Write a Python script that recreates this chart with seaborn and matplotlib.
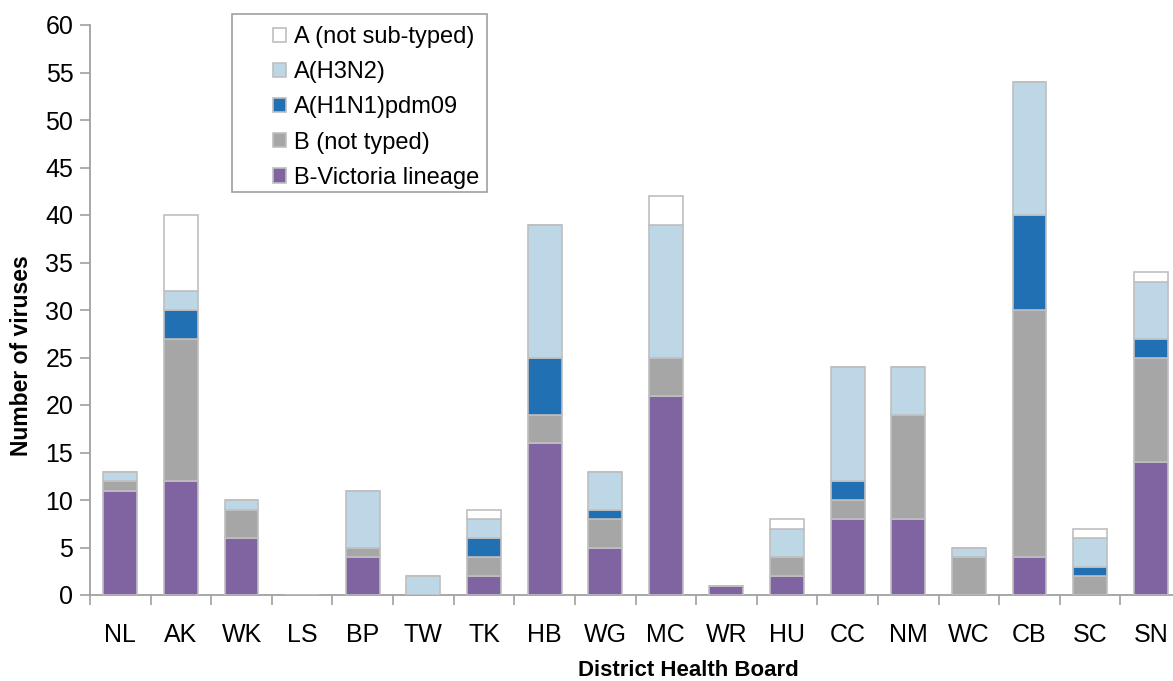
import numpy as np
import pandas as pd
import matplotlib
matplotlib.use("Agg")
import matplotlib.pyplot as plt
from matplotlib.patches import Rectangle
import seaborn as sns

# District health boards and virus counts
dhb = ["NL", "AK", "WK", "LS", "BP", "TW", "TK", "HB", "WG",
       "MC", "WR", "HU", "CC", "NM", "WC", "CB", "SC", "SN"]
b_victoria = [11, 12, 6, 0, 4, 0, 2, 16, 5, 21, 1, 2, 8, 8, 0, 4, 0, 14]
b_not_typed = [1, 15, 3, 0, 1, 0, 2, 3, 3, 4, 0, 2, 2, 11, 4, 26, 2, 11]
h1n1 = [0, 3, 0, 0, 0, 0, 2, 6, 1, 0, 0, 0, 2, 0, 0, 10, 1, 2]
h3n2 = [1, 2, 1, 0, 6, 2, 2, 14, 4, 14, 0, 3, 12, 5, 1, 14, 3, 6]
a_not_subtyped = [0, 8, 0, 0, 0, 0, 1, 0, 0, 3, 0, 1, 0, 0, 0, 0, 1, 1]

layers = [
    ("B-Victoria lineage", b_victoria, "#8064a2"),
    ("B (not typed)", b_not_typed, "#a6a6a6"),
    ("A(H1N1)pdm09", h1n1, "#2170b4"),
    ("A(H3N2)", h3n2, "#bdd7e7"),
    ("A (not sub-typed)", a_not_subtyped, "#ffffff"),
]

sns.set_style("white")
plt.rcParams["font.family"] = ["Liberation Sans", "DejaVu Sans"]
plt.rcParams["text.color"] = "black"
plt.rcParams["axes.labelcolor"] = "black"
plt.rcParams["xtick.labelcolor"] = "black"
plt.rcParams["ytick.labelcolor"] = "black"

W, H = 1173, 681
fig = plt.figure(figsize=(W / 100, H / 100), dpi=100)
ax = fig.add_axes([90 / W, 86 / H, 1091 / W, 570 / H])

bottom = np.zeros(len(dhb))
for name, vals, col in layers:
    df = pd.DataFrame({"dhb": dhb, "n": vals})
    sns.barplot(data=df, x="dhb", y="n", order=dhb, bottom=bottom,
                color=col, saturation=1, width=0.56, edgecolor="#bfbfbf",
                linewidth=1.2, label=name, ax=ax, zorder=3)
    bottom = bottom + np.array(vals)

ax.set_xlim(-0.5, 17.5)
ax.set_ylim(0, 60)
ax.set_yticks(np.arange(0, 61, 5))
ax.set_xticks(np.arange(-0.5, 18, 1), minor=True)

for s in ["top", "right"]:
    ax.spines[s].set_visible(False)
for s in ["left", "bottom"]:
    ax.spines[s].set_color("#a0a0a0")
    ax.spines[s].set_linewidth(1.3)

ax.tick_params(axis="y", which="major", direction="out", length=7, width=1.2,
               color="#a0a0a0", labelsize=18, pad=5, left=True,
               labelcolor="black")
ax.tick_params(axis="x", which="major", length=0, labelsize=18, pad=20,
               labelcolor="black")
ax.tick_params(axis="x", which="minor", direction="out", length=7, width=1.2,
               color="#a0a0a0", bottom=True)

ax.set_xlabel("District Health Board", fontsize=16, fontweight="bold",
              va="top", color="black")
ax.xaxis.set_label_coords((688 - 90) / 1091, -(660 - 595) / 570)
ax.set_ylabel("Number of viruses", fontsize=16.5, fontweight="bold",
              color="black")
ax.yaxis.set_label_coords(-(90 - 33) / 1091, (595 - 356) / 570)

# legend frame drawn separately to get the wide left margin of the original
ax.add_patch(Rectangle((232 / W, 1 - 192 / H), 255 / W, 178 / H,
                       transform=fig.transFigure, facecolor="white",
                       edgecolor="#a0a0a0", linewidth=1.2, zorder=4,
                       clip_on=False))
handles, labels = ax.get_legend_handles_labels()
leg = ax.legend(handles[::-1], labels[::-1], loc="upper left",
                bbox_to_anchor=((273 - 90) / 1091, (595 - 26) / 570),
                fontsize=17, frameon=False, labelcolor="black",
                handlelength=0.55, handleheight=0.55, handletextpad=0.35,
                borderpad=0, labelspacing=0.56, borderaxespad=0)
leg.set_zorder(5)
for h in leg.legend_handles:
    h.set_edgecolor("#bfbfbf")

fig.savefig("out.png", dpi=100)
